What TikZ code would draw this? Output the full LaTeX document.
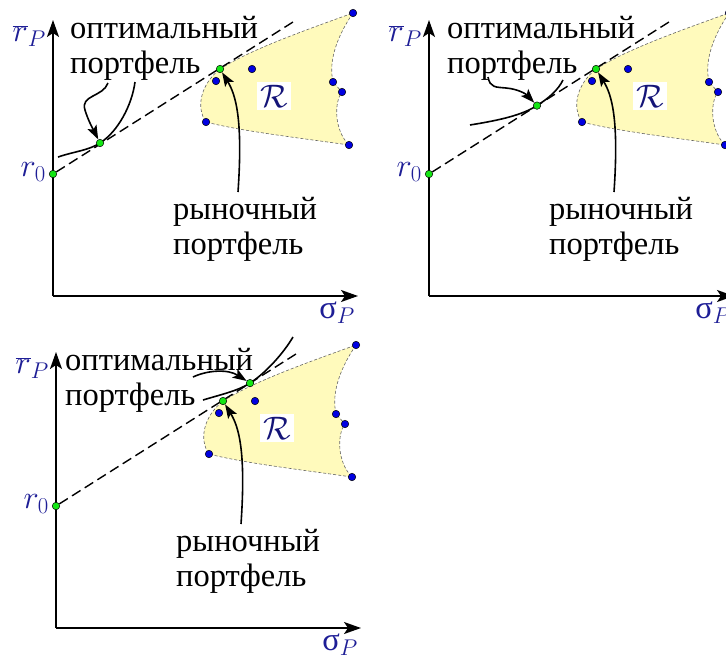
\documentclass[tikz,border=0pt]{standalone}
\usepackage{fix-cm}
\usepackage{fontspec}
\setmainfont{LiberationSerif-Regular.ttf}
\newfontfamily\rmru{LiberationSerif-Regular.ttf}
\usetikzlibrary{arrows.meta}
\definecolor{lblblue}{RGB}{30,30,150}
\definecolor{calblue}{RGB}{20,20,120}
\definecolor{setfill}{RGB}{255,250,188}
\definecolor{dotblue}{RGB}{0,0,225}
\definecolor{dotgreen}{RGB}{20,230,20}

\begin{document}
\begin{tikzpicture}[x=1pt,y=-1pt,
    font=\rmru\fontsize{32.5}{35}\selectfont,
    axis/.style={line width=1.8pt,-{Stealth[length=17pt,width=12pt,inset=4pt]}},
    ptr/.style={line width=1.6pt,-{Stealth[length=14pt,width=10pt,inset=3pt]}},
    icurve/.style={line width=1.6pt},
    capline/.style={line width=1.4pt,dash pattern=on 10pt off 5pt},
    setedge/.style={draw=black!60,line width=0.6pt,densely dashed,fill=setfill},
    bdot/.style={circle,draw=black,fill=dotblue,inner sep=0pt,minimum size=7.5pt,line width=0.5pt},
    gdot/.style={bdot,fill=dotgreen},
    lbl/.style={text=lblblue,inner sep=0pt},
    txt/.style={align=left,inner sep=0pt},
    panel/.pic={
      % axes
      \coordinate (-o) at (53,296);
      \coordinate (-ytip) at (53,20);
      \coordinate (-xtip) at (358,296);
      \draw[axis] (-o) -- (-ytip);
      \draw[axis] (-o) -- (-xtip);
      \node[lbl,anchor=east] (-rplbl) at (46,36) {$\overline{r}_P$};
      \node[lbl,anchor=east] (-r0lbl) at (46,172) {$r_0$};
      \node[lbl] (-splbl) at (337,313) {σ$_P$};
      % set R
      \path[setedge] (220,69) .. controls (250,50) and (300,32) .. (353,13)
        .. controls (338,35) and (328,60) .. (333,82) -- (342,92)
        .. controls (334,102) and (334,130) .. (349,145)
        .. controls (300,138) and (240,131) .. (206,122)
        .. controls (196,108) and (200,85) .. cycle;
      \node[fill=white,text=calblue,inner sep=3pt] (-reg) at (274,96) {$\mathcal{R}$};
      % capital market line
      \node[gdot] (-r0) at (53,174) {};
      \coordinate (-cmlend) at (293,22);
      \draw[capline] (-r0) -- (-cmlend);
      \foreach \p [count=\i] in {(353,13),(333,82),(342,92),(349,145),(206,122),(216,81),(252,69)}
        \node[bdot] (-b\i) at \p {};
      \node[gdot] (-mkt) at (220,69) {};
      \node[txt,anchor=north west] (-mtxt) at (173,197) {рыночный\\портфель};
      \coordinate (-mstart) at (238,192);
      \draw[ptr] (-mstart) .. controls (243,120) and (236,95) .. (-mkt);
    }
  ]
  \useasboundingbox (0,0) rectangle (726,662);

  % lending
  \pic (a) at (0,0) {panel};
  \coordinate (a-t) at (100,143);
  \draw[icurve] (58,157) .. controls (76,151) and (88,150.6) .. (a-t)
    .. controls (118,131.6) and (132,105) .. (135,82);
  \node[gdot] (a-opt) at (a-t) {};
  \node[txt,anchor=north west] (a-otxt) at (70,16) {оптимальный\\портфель};
  \coordinate (a-ostart) at (108,83);
  \draw[ptr] (a-ostart) .. controls (103,97) and (80,95) .. (85,110)
    .. controls (88,120) and (92,127) .. (a-opt);

  % between
  \begin{scope}[shift={(376,0)}]
    \pic (b) at (0,0) {panel};
    \coordinate (b-t) at (161,105.6);
    \draw[icurve] (94,125) .. controls (125,120) and (146,115) .. (b-t)
      .. controls (173,98) and (182,90) .. (187,80);
    \node[gdot] (b-opt) at (b-t) {};
    \node[txt,anchor=north west] (b-otxt) at (71,16) {оптимальный\\портфель};
    \coordinate (b-ostart) at (112,77);
    \draw[ptr] (b-ostart) .. controls (114,88) and (120,87) .. (130,88)
      .. controls (142,89) and (150,94) .. (b-opt);
  \end{scope}

  % borrowing
  \begin{scope}[shift={(3,332)}]
    \pic (c) at (0,0) {panel};
    \coordinate (c-t) at (247,51.1);
    \draw[icurve] (200,68) .. controls (220,62) and (235,58.7) .. (c-t)
      .. controls (262,41.5) and (280,22) .. (290,5);
    \node[gdot] (c-opt) at (c-t) {};
    \node[txt,anchor=north west] (c-otxt) at (62,16) {оптимальный\\портфель};
    \coordinate (c-ostart) at (190,45);
    \draw[ptr] (c-ostart) .. controls (205,38) and (225,37) .. (c-opt);
  \end{scope}
\end{tikzpicture}
\end{document}
